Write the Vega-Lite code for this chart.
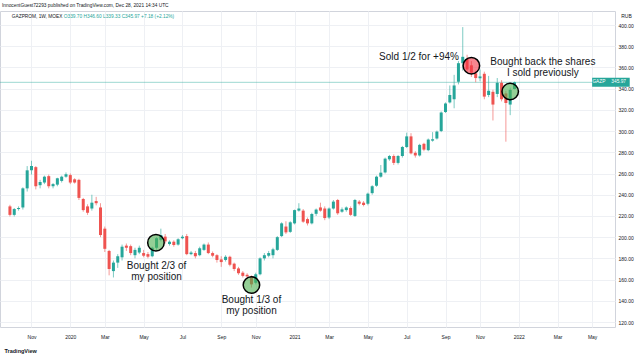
{
  "$schema": "https://vega.github.io/schema/vega-lite/v6.json",
  "width": 615,
  "height": 316,
  "autosize": {"type": "none"},
  "padding": {"left": 0, "top": 11, "right": 25, "bottom": 28},
  "background": "white",
  "title": {
    "text": "InnocentGuest72293 published on TradingView.com, Dec 28, 2021 14:34 UTC",
    "anchor": "start",
    "frame": "group",
    "fontSize": 4.8,
    "fontWeight": "normal",
    "font": "Liberation Sans",
    "color": "#131722",
    "offset": 3,
    "dx": 2
  },
  "datasets": {
    "candles": [
      {"d":"2019-09-30","o":229,"h":230.5,"l":219.5,"c":221},
      {"d":"2019-10-07","o":221,"h":227.5,"l":219.5,"c":226.5},
      {"d":"2019-10-14","o":226.5,"h":229,"l":225,"c":227.5},
      {"d":"2019-10-21","o":228,"h":247,"l":226,"c":246},
      {"d":"2019-10-28","o":246,"h":267,"l":243,"c":263},
      {"d":"2019-11-04","o":263,"h":272,"l":259,"c":267},
      {"d":"2019-11-11","o":266,"h":267,"l":245,"c":248},
      {"d":"2019-11-18","o":249,"h":254,"l":246,"c":252},
      {"d":"2019-11-25","o":251.5,"h":258,"l":250,"c":257},
      {"d":"2019-12-02","o":257.5,"h":259,"l":246,"c":248},
      {"d":"2019-12-09","o":248,"h":251,"l":246,"c":250},
      {"d":"2019-12-16","o":249.5,"h":256,"l":248,"c":255.5},
      {"d":"2019-12-23","o":253,"h":258,"l":251.5,"c":257},
      {"d":"2019-12-30","o":257,"h":261,"l":256,"c":259.3},
      {"d":"2020-01-06","o":258.5,"h":260,"l":250,"c":251.5},
      {"d":"2020-01-13","o":254.5,"h":255.5,"l":250.5,"c":251.5},
      {"d":"2020-01-20","o":254,"h":255,"l":235,"c":237},
      {"d":"2020-01-27","o":236,"h":237,"l":224,"c":225.5},
      {"d":"2020-02-03","o":229,"h":231,"l":221,"c":223},
      {"d":"2020-02-10","o":227,"h":240,"l":225,"c":232.5},
      {"d":"2020-02-17","o":234,"h":238,"l":230,"c":232},
      {"d":"2020-02-24","o":228,"h":232,"l":200,"c":202},
      {"d":"2020-03-02","o":208,"h":210,"l":186,"c":189},
      {"d":"2020-03-09","o":187,"h":188,"l":164,"c":170},
      {"d":"2020-03-16","o":168,"h":178,"l":162,"c":176},
      {"d":"2020-03-23","o":176,"h":184,"l":171,"c":182},
      {"d":"2020-03-30","o":181,"h":193,"l":178,"c":191},
      {"d":"2020-04-06","o":192,"h":194,"l":187,"c":190},
      {"d":"2020-04-13","o":191.5,"h":193,"l":183,"c":185},
      {"d":"2020-04-20","o":183,"h":190,"l":180,"c":188},
      {"d":"2020-04-27","o":185.5,"h":192,"l":184,"c":190},
      {"d":"2020-05-04","o":185,"h":188,"l":181,"c":182.5},
      {"d":"2020-05-11","o":184,"h":186,"l":180,"c":181.6},
      {"d":"2020-05-18","o":182,"h":191,"l":181,"c":190},
      {"d":"2020-05-25","o":190,"h":200,"l":188,"c":199},
      {"d":"2020-06-01","o":197.5,"h":208,"l":196,"c":202},
      {"d":"2020-06-08","o":200.5,"h":203,"l":194,"c":196},
      {"d":"2020-06-15","o":193.5,"h":197,"l":192,"c":195.7},
      {"d":"2020-06-22","o":195.7,"h":197,"l":191,"c":192.6},
      {"d":"2020-06-29","o":193,"h":199,"l":192,"c":198},
      {"d":"2020-07-06","o":199,"h":202,"l":198,"c":200.4},
      {"d":"2020-07-13","o":201,"h":203,"l":183,"c":184},
      {"d":"2020-07-20","o":184,"h":187,"l":183,"c":185.5},
      {"d":"2020-07-27","o":185,"h":187,"l":180,"c":182},
      {"d":"2020-08-03","o":183,"h":191,"l":182,"c":189.5},
      {"d":"2020-08-10","o":188,"h":194,"l":187,"c":193},
      {"d":"2020-08-17","o":193,"h":195,"l":184,"c":185},
      {"d":"2020-08-24","o":185,"h":186.5,"l":181,"c":182.5},
      {"d":"2020-08-31","o":183,"h":184,"l":176,"c":178.5},
      {"d":"2020-09-07","o":179,"h":182,"l":172,"c":176.5},
      {"d":"2020-09-14","o":178.5,"h":183,"l":177,"c":181.5},
      {"d":"2020-09-21","o":181.5,"h":182.5,"l":172.5,"c":174},
      {"d":"2020-09-28","o":175,"h":176,"l":168,"c":170},
      {"d":"2020-10-05","o":170.5,"h":172,"l":164.5,"c":166},
      {"d":"2020-10-12","o":166.5,"h":168,"l":162,"c":163.5},
      {"d":"2020-10-19","o":164.5,"h":166,"l":161,"c":163},
      {"d":"2020-10-26","o":163,"h":164,"l":152.5,"c":155.5},
      {"d":"2020-11-02","o":157,"h":166.5,"l":155.5,"c":165},
      {"d":"2020-11-09","o":165,"h":181,"l":164,"c":180},
      {"d":"2020-11-16","o":180,"h":185,"l":178,"c":183},
      {"d":"2020-11-23","o":182.5,"h":187,"l":181,"c":185},
      {"d":"2020-11-30","o":183,"h":190,"l":180,"c":188.5},
      {"d":"2020-12-07","o":188,"h":201,"l":187,"c":200},
      {"d":"2020-12-14","o":201,"h":214,"l":200,"c":213},
      {"d":"2020-12-21","o":210,"h":215,"l":203,"c":204.5},
      {"d":"2020-12-28","o":205,"h":215,"l":204,"c":214},
      {"d":"2021-01-04","o":213,"h":226,"l":212,"c":225.5},
      {"d":"2021-01-11","o":225,"h":232,"l":224,"c":227},
      {"d":"2021-01-18","o":225,"h":226.5,"l":213.5,"c":214.6},
      {"d":"2021-01-25","o":217,"h":218.5,"l":211,"c":213},
      {"d":"2021-02-01","o":213,"h":223,"l":212,"c":221.8},
      {"d":"2021-02-08","o":222,"h":227,"l":220,"c":226},
      {"d":"2021-02-15","o":228,"h":232.5,"l":224,"c":225},
      {"d":"2021-02-22","o":227,"h":229,"l":216,"c":218},
      {"d":"2021-03-01","o":218.5,"h":228,"l":217,"c":227},
      {"d":"2021-03-08","o":227,"h":235,"l":226,"c":233.5},
      {"d":"2021-03-15","o":235,"h":236,"l":221,"c":222.5},
      {"d":"2021-03-22","o":224,"h":228,"l":223,"c":226.2},
      {"d":"2021-03-29","o":225.5,"h":229,"l":224,"c":228},
      {"d":"2021-04-05","o":227.5,"h":229,"l":220,"c":221},
      {"d":"2021-04-12","o":220,"h":236,"l":219,"c":235},
      {"d":"2021-04-19","o":233.5,"h":235,"l":230,"c":231.5},
      {"d":"2021-04-26","o":232.5,"h":234,"l":229,"c":230.3},
      {"d":"2021-05-03","o":231.5,"h":242,"l":230,"c":241},
      {"d":"2021-05-10","o":241.5,"h":249,"l":240,"c":248},
      {"d":"2021-05-17","o":248.5,"h":258,"l":247.5,"c":257},
      {"d":"2021-05-24","o":257,"h":268,"l":256,"c":260.8},
      {"d":"2021-05-31","o":261,"h":275,"l":260,"c":274},
      {"d":"2021-06-07","o":273.4,"h":277.5,"l":272,"c":276.5},
      {"d":"2021-06-14","o":276.5,"h":278,"l":268,"c":270},
      {"d":"2021-06-21","o":270,"h":277.5,"l":268.5,"c":276.5},
      {"d":"2021-06-28","o":276.5,"h":286,"l":275,"c":285},
      {"d":"2021-07-05","o":285,"h":298.5,"l":284,"c":295},
      {"d":"2021-07-12","o":295,"h":298,"l":278,"c":279},
      {"d":"2021-07-19","o":279.5,"h":281,"l":275,"c":277},
      {"d":"2021-07-26","o":277,"h":288,"l":276,"c":287},
      {"d":"2021-08-02","o":288,"h":289,"l":281,"c":282.5},
      {"d":"2021-08-09","o":282,"h":293,"l":281,"c":292},
      {"d":"2021-08-16","o":291,"h":299,"l":290,"c":292.3},
      {"d":"2021-08-23","o":293,"h":300.5,"l":292,"c":299.5},
      {"d":"2021-08-30","o":300,"h":318.5,"l":299,"c":317.5},
      {"d":"2021-09-06","o":318,"h":327,"l":317,"c":326},
      {"d":"2021-09-13","o":327,"h":343,"l":326,"c":334},
      {"d":"2021-09-20","o":330,"h":353,"l":321.5,"c":343},
      {"d":"2021-09-27","o":346.5,"h":366,"l":344,"c":364},
      {"d":"2021-10-04","o":364,"h":398,"l":357,"c":370},
      {"d":"2021-10-11","o":368,"h":372,"l":355,"c":358},
      {"d":"2021-10-18","o":362,"h":366,"l":351,"c":355},
      {"d":"2021-10-25","o":354.5,"h":357,"l":346,"c":350},
      {"d":"2021-11-01","o":349.8,"h":358,"l":347,"c":351.5},
      {"d":"2021-11-08","o":354,"h":356,"l":330,"c":332.5},
      {"d":"2021-11-15","o":334,"h":352,"l":332,"c":338},
      {"d":"2021-11-22","o":337,"h":339,"l":310,"c":325},
      {"d":"2021-11-29","o":335,"h":350,"l":332,"c":345.5},
      {"d":"2021-12-06","o":345.5,"h":348,"l":328,"c":330},
      {"d":"2021-12-13","o":335.5,"h":338,"l":290,"c":326.5},
      {"d":"2021-12-20","o":325,"h":341,"l":315,"c":338.79},
      {"d":"2021-12-27","o":339.7,"h":346.6,"l":339.33,"c":345.97}
    ],
    "circles": [
      {"d":"2020-05-24","p":194.8,"k":"buy"},
      {"d":"2020-10-26","p":154.9,"k":"buy"},
      {"d":"2021-10-18","p":361.6,"k":"sell"},
      {"d":"2021-12-20","p":337.3,"k":"buy"}
    ],
    "notes": [
      {"d":"2020-05-25","p":177.5,"t":"Bought 2/3 of\nmy position"},
      {"d":"2020-10-26","p":145.5,"t":"Bought 1/3 of\nmy position"},
      {"d":"2021-07-25","p":375,"t":"Sold 1/2 for +94%"},
      {"d":"2022-02-11","p":370.3,"t":"Bought back the shares\nI sold previously"}
    ]
  },
  "layer": [
    {
      "data": {"values": [{"p": 345.97}]},
      "mark": {"type": "rule", "color": "#26a69a", "strokeWidth": 1, "opacity": 0.45},
      "encoding": {
        "y": {"field": "p", "type": "quantitative", "scale": {"domain": [115.3, 413.2], "nice": false, "zero": false},
          "axis": {
            "orient": "right",
            "values": [120,140,160,180,200,220,240,260,280,300,320,340,360,380,400],
            "tickCount": 30,
            "format": ".2f",
            "labelFontSize": 5,
            "labelFont": "Liberation Sans",
            "labelColor": "#131722",
            "labelOverlap": false,
            "labelFlush": false,
            "ticks": false,
            "domain": false,
            "grid": true,
            "gridColor": "#eef0f4",
            "gridWidth": 1,
            "labelPadding": 3,
            "title": "RUB",
            "titleAngle": 0,
            "titleFontSize": 5,
            "titleFont": "Liberation Sans",
            "titleFontWeight": "normal",
            "titleColor": "#131722",
            "titleX": 11,
            "titleY": 4,
            "titleAlign": "center",
            "titleBaseline": "middle"
          }
        }
      }
    },
    {
      "data": {"name": "candles"},
      "mark": {"type": "rule", "strokeWidth": 1, "opacity": 0.6},
      "encoding": {
        "x": {"field": "d", "type": "temporal",
          "scale": {"type": "utc", "domain": [{"year":2019,"month":9,"date":22,"utc":true},{"year":2022,"month":5,"date":31,"utc":true}]},
          "axis": {
            "values": [
              {"year":2019,"month":11,"date":4,"utc":true},
              {"year":2020,"month":1,"date":6,"utc":true},
              {"year":2020,"month":3,"date":2,"utc":true},
              {"year":2020,"month":5,"date":4,"utc":true},
              {"year":2020,"month":7,"date":6,"utc":true},
              {"year":2020,"month":9,"date":7,"utc":true},
              {"year":2020,"month":11,"date":2,"utc":true},
              {"year":2021,"month":1,"date":4,"utc":true},
              {"year":2021,"month":3,"date":1,"utc":true},
              {"year":2021,"month":5,"date":3,"utc":true},
              {"year":2021,"month":7,"date":5,"utc":true},
              {"year":2021,"month":9,"date":6,"utc":true},
              {"year":2021,"month":11,"date":1,"utc":true},
              {"year":2022,"month":1,"date":3,"utc":true},
              {"year":2022,"month":3,"date":7,"utc":true},
              {"year":2022,"month":5,"date":2,"utc":true}
            ],
            "tickCount": 30,
            "labelExpr": "utcmonth(datum.value) == 0 ? utcFormat(datum.value, '%Y') : utcFormat(datum.value, '%b')",
            "labelFontSize": 5,
            "labelFont": "Liberation Sans",
            "labelColor": "#131722",
            "labelFlush": false,
            "labelOverlap": false,
            "ticks": false,
            "domain": false,
            "grid": true,
            "gridColor": "#eef0f4",
            "labelPadding": 7,
            "title": "TradingView",
            "titleFontSize": 5.5,
            "titleFont": "Liberation Sans",
            "titleFontWeight": "bold",
            "titleColor": "#131722",
            "titleAnchor": "start",
            "titleAlign": "left",
            "titleBaseline": "middle",
            "titleX": 4,
            "titleY": 23
          }
        },
        "y": {"field": "l", "type": "quantitative", "scale": {"domain": [115.3, 413.2], "nice": false, "zero": false}},
        "y2": {"field": "h"},
        "color": {"condition": {"test": "datum.c >= datum.o", "value": "#26a69a"}, "value": "#ef5350"}
      }
    },
    {
      "data": {"name": "candles"},
      "mark": {"type": "bar", "size": 3, "minBandSize": 1},
      "encoding": {
        "x": {"field": "d", "type": "temporal",
          "scale": {"type": "utc", "domain": [{"year":2019,"month":9,"date":22,"utc":true},{"year":2022,"month":5,"date":31,"utc":true}]}},
        "y": {"field": "o", "type": "quantitative", "scale": {"domain": [115.3, 413.2], "nice": false, "zero": false}},
        "y2": {"field": "c"},
        "color": {"condition": {"test": "datum.c >= datum.o", "value": "#26a69a"}, "value": "#ef5350"}
      }
    },
    {
      "data": {"name": "circles"},
      "mark": {"type": "point", "filled": true, "size": 272, "stroke": "#000000", "strokeWidth": 1.5, "opacity": 1, "fillOpacity": 0.6, "strokeOpacity": 1},
      "encoding": {
        "x": {"field": "d", "type": "temporal",
          "scale": {"type": "utc", "domain": [{"year":2019,"month":9,"date":22,"utc":true},{"year":2022,"month":5,"date":31,"utc":true}]}},
        "y": {"field": "p", "type": "quantitative", "scale": {"domain": [115.3, 413.2], "nice": false, "zero": false}},
        "fill": {"field": "k", "type": "nominal", "scale": {"domain": ["buy", "sell"], "range": ["#4caf50", "#f23645"]}, "legend": null}
      }
    },
    {
      "data": {"name": "notes"},
      "mark": {"type": "text", "align": "center", "baseline": "top", "fontSize": 10, "font": "Liberation Sans", "lineBreak": "\n", "lineHeight": 11, "color": "#131722"},
      "encoding": {
        "x": {"field": "d", "type": "temporal",
          "scale": {"type": "utc", "domain": [{"year":2019,"month":9,"date":22,"utc":true},{"year":2022,"month":5,"date":31,"utc":true}]}},
        "y": {"field": "p", "type": "quantitative", "scale": {"domain": [115.3, 413.2], "nice": false, "zero": false}},
        "text": {"field": "t"}
      }
    },
    {
      "data": {"values": [{"t": "GAZPROM, 1W, MOEX"}]},
      "mark": {"type": "text", "align": "left", "baseline": "middle", "fontSize": 4.8, "font": "Liberation Sans", "color": "#131722"},
      "encoding": {
        "x": {"datum": {"year":2019,"month":10,"date":3,"utc":true}, "type": "temporal",
          "scale": {"type": "utc", "domain": [{"year":2019,"month":9,"date":22,"utc":true},{"year":2022,"month":5,"date":31,"utc":true}]}},
        "y": {"datum": 407.5, "type": "quantitative", "scale": {"domain": [115.3, 413.2], "nice": false, "zero": false}},
        "text": {"field": "t"}
      }
    },
    {
      "data": {"values": [{"t": "O339.70 H346.60 L339.33 C345.97 +7.18 (+2.12%)"}]},
      "mark": {"type": "text", "align": "left", "baseline": "middle", "fontSize": 4.8, "font": "Liberation Sans", "color": "#26a69a", "dx": 52},
      "encoding": {
        "x": {"datum": {"year":2019,"month":10,"date":3,"utc":true}, "type": "temporal",
          "scale": {"type": "utc", "domain": [{"year":2019,"month":9,"date":22,"utc":true},{"year":2022,"month":5,"date":31,"utc":true}]}},
        "y": {"datum": 407.5, "type": "quantitative", "scale": {"domain": [115.3, 413.2], "nice": false, "zero": false}},
        "text": {"field": "t"}
      }
    },
    {
      "data": {"values": [{}]},
      "mark": {"type": "rect", "color": "#26a69a"},
      "encoding": {
        "x": {"datum": {"year":2022,"month":5,"date":2,"utc":true}, "type": "temporal",
          "scale": {"type": "utc", "domain": [{"year":2019,"month":9,"date":22,"utc":true},{"year":2022,"month":5,"date":31,"utc":true}]}},
        "x2": {"datum": {"year":2022,"month":7,"date":2,"utc":true}},
        "y": {"datum": 341.8, "type": "quantitative", "scale": {"domain": [115.3, 413.2], "nice": false, "zero": false}},
        "y2": {"datum": 350.2}
      }
    },
    {
      "data": {"values": [{"t": "GAZP", "at": "2022-05-13"}, {"t": "345.97", "at": "2022-06-14"}]},
      "mark": {"type": "text", "align": "center", "baseline": "middle", "fontSize": 4.8, "font": "Liberation Sans", "color": "white"},
      "encoding": {
        "x": {"field": "at", "type": "temporal",
          "scale": {"type": "utc", "domain": [{"year":2019,"month":9,"date":22,"utc":true},{"year":2022,"month":5,"date":31,"utc":true}]}},
        "y": {"datum": 346, "type": "quantitative", "scale": {"domain": [115.3, 413.2], "nice": false, "zero": false}},
        "text": {"field": "t"}
      }
    }
  ],
  "config": {
    "view": {"stroke": "#d1d4dc"},
    "font": "Liberation Sans"
  }
}
